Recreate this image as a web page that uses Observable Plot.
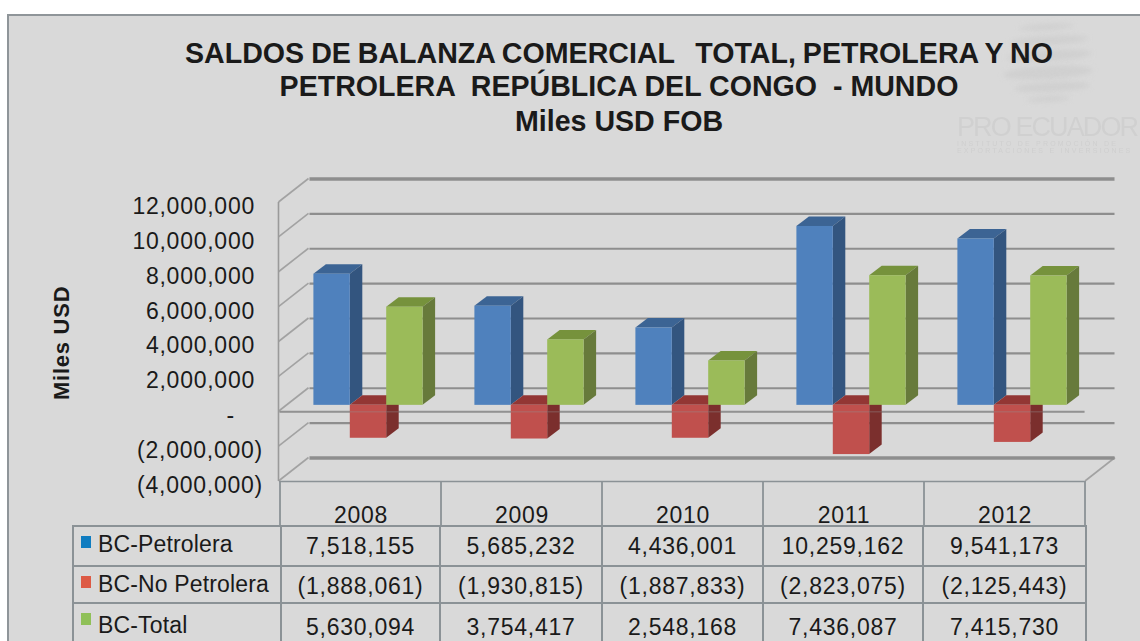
<!DOCTYPE html>
<html><head><meta charset="utf-8">
<script src="https://cdn.jsdelivr.net/npm/d3@7"></script>
<script src="https://cdn.jsdelivr.net/npm/@observablehq/plot@0.6"></script>
<style>
html,body{margin:0;padding:0;background:#fff;width:1140px;height:641px;overflow:hidden;font-family:"Liberation Sans",Arial,sans-serif;color:#1a1a1a}
#frame{position:absolute;left:7px;top:14px;width:1140px;height:640px;background:#d9d9d9;border:2px solid #8f9599;box-sizing:border-box}
#chart{position:absolute;left:0;top:0}
#chart svg{background:transparent;overflow:visible}
.t{position:absolute;left:0;width:1238px;text-align:center;font-weight:bold;white-space:pre;font-size:28.6px;line-height:32px}
#wm{position:absolute;left:957px;top:112px;font-size:27px;letter-spacing:-1.9px;color:#d0d0d0;white-space:pre;filter:blur(.6px)}
.wm2{position:absolute;left:957px;font-size:7px;letter-spacing:2.2px;color:#cfcfcf;white-space:pre;filter:blur(.5px)}
.sw{position:absolute;background:#d0d0d0;border-radius:50%;filter:blur(2.5px);transform:rotate(-3deg)}
#tb{position:absolute;left:72px;top:525px;border-collapse:collapse;table-layout:fixed;font-size:23px;letter-spacing:.75px}
#tb td{border:2px solid #8b9296;padding:0;text-align:center;box-sizing:border-box;vertical-align:middle;overflow:hidden;white-space:nowrap}
#tb td span{position:relative}
#tb td.n{text-align:left;padding-left:24px;position:relative;letter-spacing:.15px}
#tb td.n i{position:absolute;left:7px;top:9px;width:10px;height:12px}
</style></head><body>
<div id="frame"></div>
<div class="sw" style="left:1018px;top:24px;width:56px;height:6px"></div>
<div class="sw" style="left:1010px;top:36px;width:78px;height:9px"></div>
<div class="sw" style="left:1006px;top:50px;width:86px;height:11px"></div>
<div class="sw" style="left:1003px;top:66px;width:90px;height:13px"></div>
<div class="sw" style="left:1014px;top:82px;width:76px;height:10px"></div>
<div class="sw" style="left:1026px;top:96px;width:44px;height:6px"></div>
<div id="wm">PRO ECUADOR</div>
<div class="wm2" style="top:140px">INSTITUTO DE PROMOCIÓN DE</div>
<div class="wm2" style="top:147px">EXPORTACIONES E INVERSIONES</div>
<div class="t" style="top:37px;word-spacing:-1px">SALDOS DE BALANZA COMERCIAL   TOTAL, PETROLERA Y NO</div>
<div class="t" style="top:70px">PETROLERA  REPÚBLICA DEL CONGO  - MUNDO</div>
<div class="t" style="top:105px">Miles USD FOB</div>
<div id="chart"></div>
<table id="tb"></table>
<script>
const years = ["2008","2009","2010","2011","2012"];
const seriesNames = ["BC-Petrolera","BC-No Petrolera","BC-Total"];
const petrolera = [7518155,5685232,4436001,10259162,9541173];
const noPetrolera = [-1888061,-1930815,-1887833,-2823075,-2125443];
const total = [5630094,3754417,2548168,7436087,7415730];
const yTicks = [-4000000,-2000000,0,2000000,4000000,6000000,8000000,10000000,12000000];
const frontColors = ["#4f81bd","#c0504d","#9bbb59"];
const topColors = ["#3c6494","#933634","#76923c"];
const sideColors = ["#33557f","#7b2f2d","#677a3b"];
const legendColors = ["#0f7cc0","#dd5a45","#8fc058"];

const seriesValues = [petrolera,noPetrolera,total];
const rows = seriesValues.map(vals => vals.map((value,i)=>({year:years[i],value})));

const depth = {x:30, y:-23.5};
const barDepth = {x:12.5, y:-9.5};
const barW = 36.4, barDy = -6.4, barShift = 7.5;
const GRID = "#8e8e8e";

function offsetOf(s){ return barShift + (s-1)*barW; }

function faces(s){
  return (index, {x,y}) => {
    const g = d3.create("svg:g");
    for (const d of rows[s]) {
      const l = x(d.year) + x.bandwidth()/2 + offsetOf(s) - barW/2, r = l + barW;
      const y0 = y(0) + barDy, yv = y(d.value) + barDy, yt = Math.min(y0,yv), yb = Math.max(y0,yv);
      const bx = barDepth.x, by = barDepth.y;
      g.append("polygon").attr("fill",topColors[s])
        .attr("points",[[l,yt],[r,yt],[r+bx,yt+by],[l+bx,yt+by]].join(" "));
      g.append("polygon").attr("fill",sideColors[s])
        .attr("points",[[r,yt],[r+bx,yt+by],[r+bx,yb+by],[r,yb]].join(" "));
    }
    return g.node();
  };
}

function walls(index, {x,y}, values, dims){
  const g = d3.create("svg:g").attr("fill","none");
  const L = x(years[0]) - 1.5, R = x(years[4]) + x.bandwidth();
  for (const t of yTicks) {
    g.append("line").attr("x1",L).attr("y1",y(t)).attr("x2",L+depth.x).attr("y2",y(t)+depth.y)
      .attr("stroke","#a2a2a2").attr("stroke-width",1.6);
  }
  g.append("line").attr("x1",R).attr("y1",y(-4000000)).attr("x2",R+depth.x).attr("y2",y(-4000000)+depth.y)
      .attr("stroke","#a2a2a2").attr("stroke-width",1.6);
  g.append("line").attr("x1",L).attr("x2",L).attr("y1",y(12000000)).attr("y2",y(-4000000))
      .attr("stroke","#9a9a9a").attr("stroke-width",1.6);
  // category dividers that run from the floor to the data table
  for (const yr of years) {
    const X = x(yr);
    g.append("line").attr("x1",X).attr("x2",X).attr("y1",y(-4000000)).attr("y2",dims.height)
      .attr("stroke","#8b9296").attr("stroke-width",1.8);
  }
  g.append("line").attr("x1",R).attr("x2",R).attr("y1",y(-4000000)).attr("y2",dims.height)
      .attr("stroke","#8b9296").attr("stroke-width",1.8);
  return g.node();
}

const inset = (161 - barW)/2;
function bars(s){
  return Plot.barY(rows[s],{x:"year",y1:0,y2:"value",fill:frontColors[s],insetLeft:inset,insetRight:inset,dx:offsetOf(s),dy:barDy});
}
const fmt = d3.format(",");
const axisStyle = {tickSize:0,fontSize:23,fill:"#1a1a1a",label:null};

const plot = Plot.plot({
  width:1140,height:525,
  marginTop:202,marginBottom:44,marginLeft:279.5,marginRight:55.5,
  style:{fontFamily:"'Liberation Sans',Arial,sans-serif",letterSpacing:"0.75px",background:"transparent"},
  x:{type:"band",domain:years,padding:0,label:null},
  y:{domain:[-4000000,12000000],label:null},
  marks:[
    walls,
    Plot.ruleY(yTicks.filter(t=>t!==12000000&&t!==-4000000),{y:d=>d,dx:depth.x,dy:depth.y,stroke:GRID,strokeWidth:2.2}),
    Plot.ruleY([12000000,-4000000],{y:d=>d,dx:depth.x,dy:depth.y,stroke:GRID,strokeWidth:3.4}),
    Plot.ruleY([0],{stroke:"#929292",strokeWidth:1.8}),
    Plot.ruleY([-4000000],{stroke:"#8b9296",strokeWidth:1.6}),
    faces(0),bars(0),faces(1),bars(1),faces(2),bars(2),
    Plot.ruleY([0],{stroke:"#929292",strokeWidth:1.4,strokeOpacity:.3}),
    Plot.axisY(yTicks.filter(t=>t>0),{...axisStyle,tickFormat:fmt,tickPadding:0,textAnchor:"end",dx:-25,dy:4}),
    Plot.axisY([0],{...axisStyle,tickFormat:()=>"-",tickPadding:0,textAnchor:"end",dx:-45,dy:4}),
    Plot.axisY(yTicks.filter(t=>t<0),{...axisStyle,tickFormat:v=>`(${fmt(-v)})`,tickPadding:0,textAnchor:"end",dx:-17,dy:4}),
    Plot.axisX({...axisStyle,anchor:"bottom",tickPadding:25}),
    Plot.text(["Miles USD"],{y:()=>3950000,frameAnchor:"left",dx:-218,rotate:-90,textAnchor:"middle",fontWeight:"bold",fontSize:22,fill:"#1a1a1a"})
  ]
});
document.getElementById("chart").append(plot);

const colWidths = [208,159,162,161,160,163];
const tb = d3.select("#tb").style("width",colWidths.reduce((a,b)=>a+b)+"px");
const cg = tb.append("colgroup");
colWidths.forEach(w=>cg.append("col").style("width",w+"px"));
const cell = v => v<0 ? `(${fmt(-v)})` : fmt(v);
const rowH = [40,37,50];
const nameNudge = [-2,0,-3], valueNudge = [0,2,-1];
seriesNames.forEach((name,s)=>{
  const tr = tb.append("tr").style("height",rowH[s]+"px");
  const n = tr.append("td").attr("class","n");
  n.append("span").style("top",nameNudge[s]+"px").text(name);
  n.append("i").style("background",legendColors[s]);
  seriesValues[s].forEach(v=>tr.append("td").append("span").style("top",valueNudge[s]+"px").text(cell(v)));
});
</script>
</body></html>
